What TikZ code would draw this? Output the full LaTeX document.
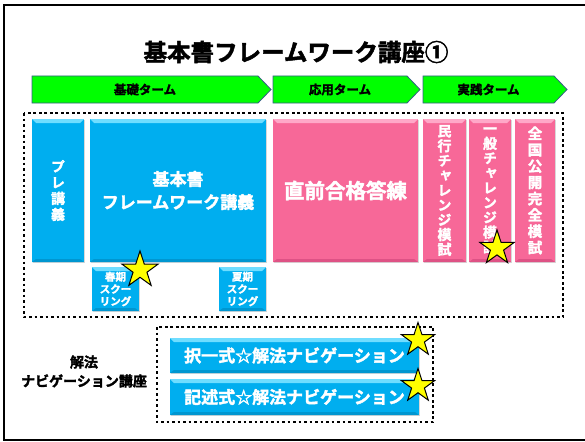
\documentclass[tikz,border=0pt]{standalone}
\usepackage{fontspec}
\setmainfont{Noto Sans CJK JP}[BoldFont={* Bold}, BoldFeatures={FakeBold=2}]
\newfontfamily\tatefont{Noto Sans CJK JP}[BoldFont={* Bold}, BoldFeatures={FakeBold=2}, RawFeature={+vert}]
\usepackage{tikz}
\usetikzlibrary{shapes.geometric, shapes.symbols, shadows}
\definecolor{kblue}{HTML}{00AEEF}
\definecolor{kbluetop}{HTML}{6FDDFF}
\definecolor{kbluelow}{HTML}{0096D0}
\definecolor{kpink}{HTML}{F76898}
\definecolor{kpinktop}{HTML}{FFA8C8}
\definecolor{kpinklow}{HTML}{DE5285}
\definecolor{tgreen}{HTML}{00FF00}
\definecolor{tedge}{HTML}{385D8A}
\definecolor{kyellow}{HTML}{FFFF00}
\tikzset{bevel/.style 2 args={path picture={
  \fill[#1] (path picture bounding box.north west) -- (path picture bounding box.north east)
    -- ([xshift=-4pt,yshift=-4pt]path picture bounding box.north east)
    -- ([xshift=4pt,yshift=-4pt]path picture bounding box.north west) -- cycle;
  \fill[#2] (path picture bounding box.south west) -- (path picture bounding box.south east)
    -- ([xshift=-4pt,yshift=3pt]path picture bounding box.south east)
    -- ([xshift=4pt,yshift=3pt]path picture bounding box.south west) -- cycle;}}}
\tikzstyle{term} = [signal, signal to=east, signal pointer angle=92, fill=tgreen, draw=tedge, line width=0.8pt, inner sep=0, outer sep=0, minimum height=27, font=\bfseries\fontsize{12.5}{14}\selectfont]
\tikzstyle{course} = [rectangle, anchor=north west, inner sep=0, outer sep=0, align=center, text=white, drop shadow={shadow xshift=1.2pt, shadow yshift=-1.2pt, opacity=0.3}]
\tikzstyle{bluebox} = [course, fill=kblue, bevel={kbluetop}{kbluelow}]
\tikzstyle{pinkbox} = [course, fill=kpink, bevel={kpinktop}{kpinklow}]
\tikzstyle{tate} = [font=\tatefont\bfseries\fontsize{14}{14.8}\selectfont]
\tikzstyle{kstar} = [star, star points=5, star point ratio=2.6, fill=kyellow, draw=black, line width=1pt, inner sep=0]
\tikzstyle{dotbox} = [line width=2.7pt, dash pattern=on 2.7pt off 2.8pt]

\begin{document}
\begin{tikzpicture}[x=1pt, y=-1pt]
\useasboundingbox (0,0) rectangle (585,441);
\fill[white] (0,0) rectangle (585,441);
\draw[line width=2pt] (4,5) rectangle (592,440);

%% title and terms
\node[font=\bfseries\fontsize{23.5}{26}\selectfont] (title) at (296,52) {基本書フレームワーク講座①};
\node[term, minimum width=239] (basicterm) at (145,89.5) {基礎ターム};
\node[term, minimum width=147] (appliedterm) at (340,89.5) {応用ターム};
\node[term, minimum width=144] (practiceterm) at (488.5,89.5) {実践ターム};

%% courses
\draw[dotbox] (24,113) rectangle (563,317);
\node[bluebox, minimum width=52, minimum height=143, font=\tatefont\bfseries\fontsize{14}{16}\selectfont] (pre) at (32,119) {プ\\レ\\講\\義};
\node[bluebox, minimum width=176, minimum height=143, font=\bfseries\fontsize{17}{23}\selectfont] (framework) at (90,119) {基本書\\フレームワーク講義};
\node[bluebox, minimum width=47, minimum height=44, font=\bfseries\fontsize{10.5}{12.3}\selectfont] (spring) at (92,267) {春期\\スクー\\リング};
\node[bluebox, minimum width=47, minimum height=44, font=\bfseries\fontsize{10.5}{12.3}\selectfont] (summer) at (219,267) {夏期\\スクー\\リング};

\node[pinkbox, minimum width=145, minimum height=143, font=\bfseries\fontsize{20.5}{24}\selectfont] (chokuzen) at (273,119) {直前合格答練};
\node[pinkbox, tate, minimum width=43, minimum height=143] (minko) at (423,119) {民\\行\\チ\\ャ\\レ\\ン\\ジ\\模\\試};
\node[pinkbox, tate, minimum width=42, minimum height=143] (ippan) at (469,119) {一\\般\\チ\\ャ\\レ\\ン\\ジ\\模\\試};
\node[pinkbox, minimum width=40, minimum height=143, font=\tatefont\bfseries\fontsize{14.5}{16.3}\selectfont] (zenkoku) at (515,119) {全\\国\\公\\開\\完\\全\\模\\試};

\node[kstar, minimum size=38] (springstar) at (140,270) {};
\node[kstar, minimum size=36] (ippanstar) at (497,248) {};

%% navigation
\node[font=\bfseries\fontsize{14}{19}\selectfont, align=center] (navlabel) at (84,371.5) {解法\\ナビゲーション講座};
\draw[dotbox] (157,327) rectangle (433,422);
\node[bluebox, minimum width=249, minimum height=35, font=\bfseries\fontsize{17}{20}\selectfont] (navmc) at (170,338) {択一式☆解法ナビゲーション};
\node[bluebox, minimum width=249, minimum height=36, font=\bfseries\fontsize{17}{20}\selectfont] (navessay) at (170,379) {記述式☆解法ナビゲーション};
\node[kstar, minimum size=35] (mcstar) at (418,340) {};
\node[kstar, minimum size=35] (essaystar) at (418,386) {};
\end{tikzpicture}
\end{document}
